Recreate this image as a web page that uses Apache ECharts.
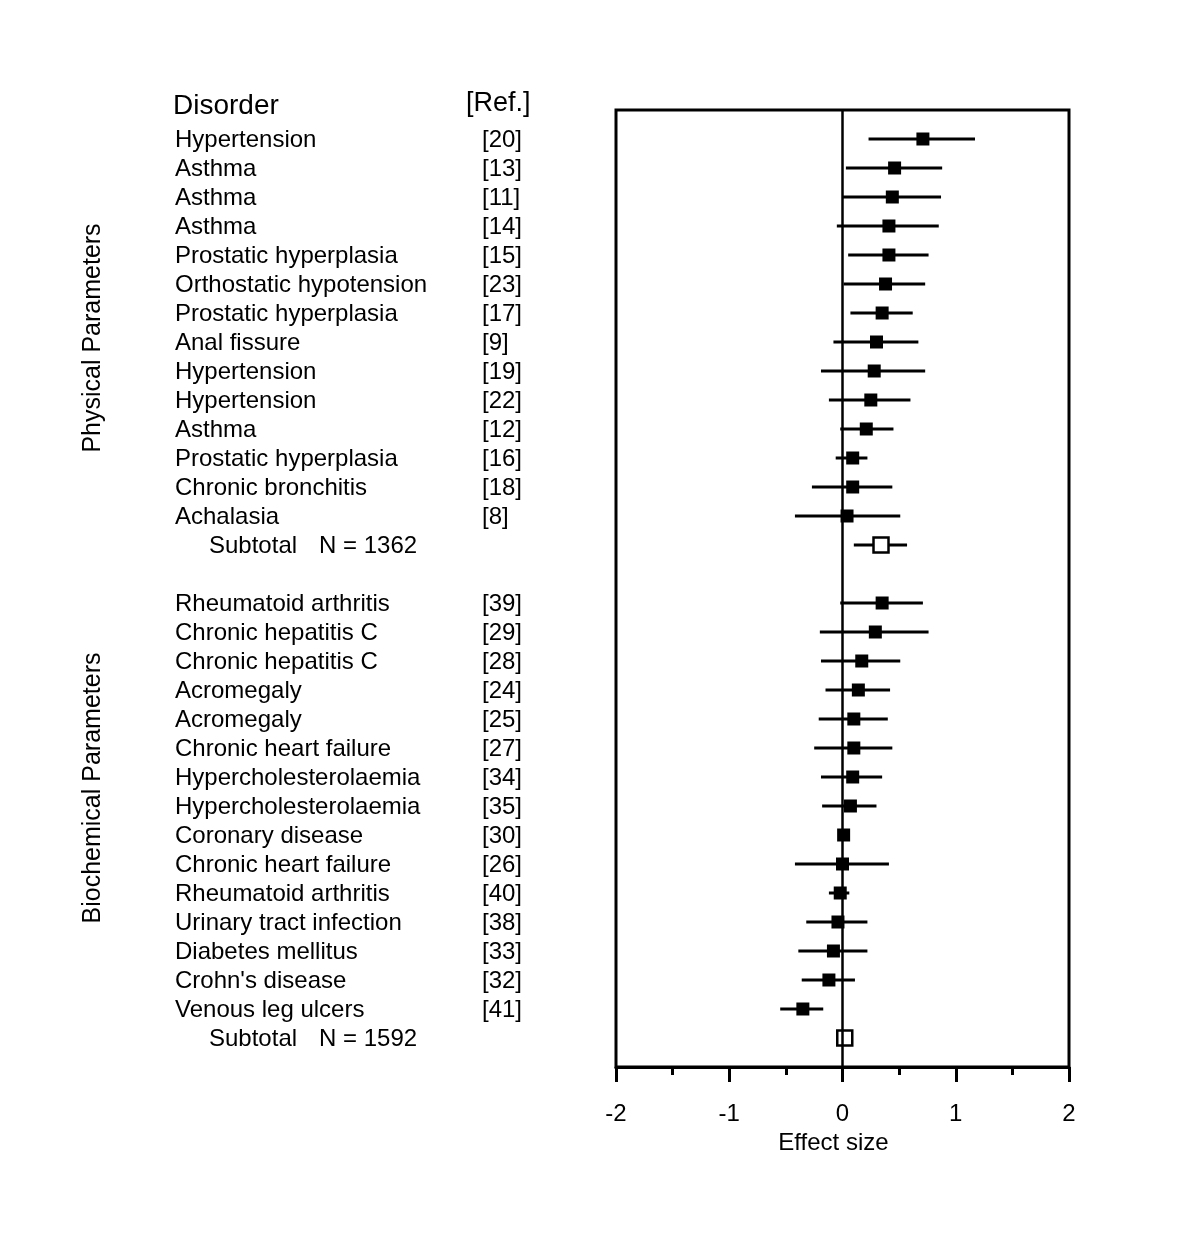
<!DOCTYPE html>
<html>
<head>
<meta charset="utf-8">
<script src="https://cdn.jsdelivr.net/npm/echarts@6/dist/echarts.min.js"></script>
<style>
  html, body { margin: 0; padding: 0; background: #fff; }
  #chart { width: 1200px; height: 1245px; }
</style>
</head>
<body>
<div id="chart"></div>
<script>
// physical parameters
const physDisorders = ['Hypertension', 'Asthma', 'Asthma', 'Asthma', 'Prostatic hyperplasia',
  'Orthostatic hypotension', 'Prostatic hyperplasia', 'Anal fissure', 'Hypertension',
  'Hypertension', 'Asthma', 'Prostatic hyperplasia', 'Chronic bronchitis', 'Achalasia'];
const physRefs = ['[20]', '[13]', '[11]', '[14]', '[15]', '[23]', '[17]', '[9]', '[19]',
  '[22]', '[12]', '[16]', '[18]', '[8]'];
const physEffect = [0.71, 0.46, 0.44, 0.41, 0.41, 0.38, 0.35, 0.30, 0.28, 0.25, 0.21, 0.09, 0.09, 0.04];
const physLow = [0.23, 0.03, 0.00, -0.05, 0.05, 0.01, 0.07, -0.08, -0.19, -0.12, -0.02, -0.06, -0.27, -0.42];
const physHigh = [1.17, 0.88, 0.87, 0.85, 0.76, 0.73, 0.62, 0.67, 0.73, 0.60, 0.45, 0.22, 0.44, 0.51];
const physSubtotal = [0.34, 0.10, 0.57];
const physN = 'N = 1362';

// biochemical parameters
const bioDisorders = ['Rheumatoid arthritis', 'Chronic hepatitis C', 'Chronic hepatitis C',
  'Acromegaly', 'Acromegaly', 'Chronic heart failure', 'Hypercholesterolaemia',
  'Hypercholesterolaemia', 'Coronary disease', 'Chronic heart failure', 'Rheumatoid arthritis',
  'Urinary tract infection', 'Diabetes mellitus', "Crohn's disease", 'Venous leg ulcers'];
const bioRefs = ['[39]', '[29]', '[28]', '[24]', '[25]', '[27]', '[34]', '[35]', '[30]',
  '[26]', '[40]', '[38]', '[33]', '[32]', '[41]'];
const bioEffect = [0.35, 0.29, 0.17, 0.14, 0.10, 0.10, 0.09, 0.07, 0.01, 0.00, -0.02, -0.04, -0.08, -0.12, -0.35];
const bioLow = [-0.02, -0.20, -0.19, -0.15, -0.21, -0.25, -0.19, -0.18, -0.04, -0.42, -0.12, -0.32, -0.39, -0.36, -0.55];
const bioHigh = [0.71, 0.76, 0.51, 0.42, 0.40, 0.44, 0.35, 0.30, 0.06, 0.41, 0.06, 0.22, 0.22, 0.11, -0.17];
const bioSubtotal = [0.02, 0.00, 0.05];
const bioN = 'N = 1592';

const xTicks = [-2, -1, 0, 1, 2];

const FONT = '"Liberation Sans", Arial, sans-serif';

// row layout: physical 0..13, subtotal 14, gap 15, biochemical 16..30, subtotal 31
const bioStart = physDisorders.length + 2;
const physSubRow = physDisorders.length;
const bioSubRow = bioStart + bioDisorders.length;

let forestData = [];
let textData = [];
physDisorders.forEach((d, i) => {
  forestData.push([physEffect[i], physLow[i], physHigh[i], i, 0]);
  textData.push([15, i, d]);
  textData.push([322, i, physRefs[i]]);
});
forestData.push([physSubtotal[0], physSubtotal[1], physSubtotal[2], physSubRow, 1]);
textData.push([49, physSubRow, 'Subtotal']);
textData.push([159, physSubRow, physN]);
bioDisorders.forEach((d, i) => {
  forestData.push([bioEffect[i], bioLow[i], bioHigh[i], bioStart + i, 0]);
  textData.push([15, bioStart + i, d]);
  textData.push([322, bioStart + i, bioRefs[i]]);
});
forestData.push([bioSubtotal[0], bioSubtotal[1], bioSubtotal[2], bioSubRow, 1]);
textData.push([49, bioSubRow, 'Subtotal']);
textData.push([159, bioSubRow, bioN]);

let chart = echarts.init(document.getElementById('chart'));

function renderForest(params, api) {
  const row = api.value(3);
  const p = api.coord([api.value(0), row]);
  const lo = api.coord([api.value(1), row]);
  const hi = api.coord([api.value(2), row]);
  const open = api.value(4) === 1;
  const s = open ? 15 : 13;
  return {
    type: 'group',
    children: [
      {
        type: 'line',
        shape: { x1: lo[0], y1: lo[1], x2: hi[0], y2: hi[1] },
        style: { stroke: '#000', lineWidth: 3 }
      },
      {
        type: 'rect',
        shape: { x: p[0] - s / 2, y: p[1] - s / 2, width: s, height: s },
        style: open ? { fill: '#fff', stroke: '#000', lineWidth: 2.5 } : { fill: '#000' }
      }
    ]
  };
}

function renderText(params, api) {
  const p = api.coord([api.value(0), api.value(1)]);
  return {
    type: 'text',
    x: p[0],
    y: p[1] + 1,
    style: {
      text: textData[params.dataIndex][2],
      fill: '#000',
      font: '24px ' + FONT,
      align: 'left',
      verticalAlign: 'middle'
    }
  };
}

const option = {
  animation: false,
  backgroundColor: '#fff',
  textStyle: { fontFamily: FONT },
  grid: [
    { left: 616, right: 131, top: 110, height: 957, show: true, borderColor: '#000', borderWidth: 3, backgroundColor: 'transparent' },
    { left: 160, width: 400, top: 110, height: 957 }
  ],
  xAxis: [
    {
      gridIndex: 0,
      type: 'value',
      min: xTicks[0],
      max: xTicks[xTicks.length - 1],
      interval: 1,
      axisLine: { show: true, onZero: false, lineStyle: { color: '#000', width: 3 } },
      axisTick: { show: true, length: 15, lineStyle: { color: '#000', width: 3 } },
      minorTick: { show: true, splitNumber: 2, length: 8, lineStyle: { color: '#000', width: 3 } },
      splitLine: { show: false },
      axisLabel: { color: '#000', fontSize: 24, fontFamily: FONT, margin: 35 },
      name: 'Effect size',
      nameLocation: 'middle',
      nameGap: 63,
      nameTextStyle: { color: '#000', fontSize: 24, fontFamily: FONT, padding: [0, 18, 0, 0] }
    },
    { gridIndex: 1, type: 'value', min: 0, max: 400, show: false }
  ],
  yAxis: [
    { gridIndex: 0, type: 'value', min: -1, max: 32, inverse: true, show: false },
    { gridIndex: 1, type: 'value', min: -1, max: 32, inverse: true, show: false }
  ],
  graphic: [
    { type: 'text', x: 173, y: 106, style: { text: 'Disorder', font: '28px ' + FONT, fill: '#000', verticalAlign: 'middle' } },
    { type: 'text', x: 466, y: 104, style: { text: '[Ref.]', font: '27px ' + FONT, fill: '#000', verticalAlign: 'middle' } },
    { type: 'text', x: 93, y: 338, rotation: Math.PI / 2, style: { text: 'Physical Parameters', font: '25px ' + FONT, fill: '#000', align: 'center', verticalAlign: 'middle' } },
    { type: 'text', x: 93, y: 788, rotation: Math.PI / 2, style: { text: 'Biochemical Parameters', font: '25px ' + FONT, fill: '#000', align: 'center', verticalAlign: 'middle' } }
  ],
  series: [
    {
      type: 'custom',
      name: 'forest',
      xAxisIndex: 0,
      yAxisIndex: 0,
      renderItem: renderForest,
      encode: { x: [0, 1, 2], y: 3 },
      data: forestData,
      z: 3,
      markLine: {
        silent: true,
        symbol: 'none',
        label: { show: false },
        lineStyle: { color: '#000', width: 2.5, type: 'solid' },
        data: [{ xAxis: 0 }]
      }
    },
    {
      type: 'custom',
      name: 'labels',
      xAxisIndex: 1,
      yAxisIndex: 1,
      renderItem: renderText,
      encode: { x: 0, y: 1 },
      data: textData.map(t => [t[0], t[1]]),
      clip: false
    }
  ]
};
chart.setOption(option);
</script>
</body>
</html>
